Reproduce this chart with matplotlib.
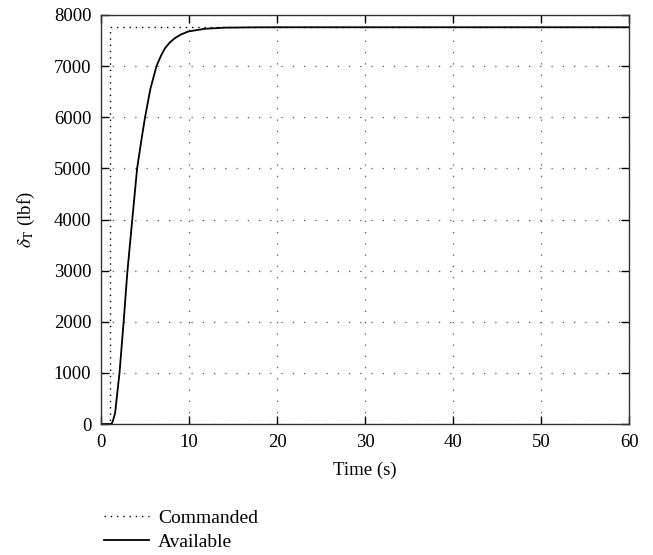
import matplotlib
matplotlib.use("Agg")
import matplotlib.pyplot as plt

plt.rcParams['font.family'] = ['Liberation Serif', 'DejaVu Serif']
plt.rcParams['mathtext.fontset'] = 'stix'

# Commanded (step)
cmd_t = [0, 1.0, 1.0, 60]
cmd_v = [0, 0, 7760, 7760]

# Available
av_t = [0, 1.0, 1.2, 1.35, 1.6, 2.1, 2.57, 2.98, 3.55, 4.1, 4.6, 5.0, 5.6, 6.3, 6.8, 7.27, 7.8, 8.4, 9.1, 9.9, 11.8, 14, 17, 20, 60]
av_v = [0, 0, 5, 60, 215, 1000, 2000, 2950, 4000, 5000, 5570, 6000, 6550, 7000, 7200, 7350, 7460, 7548, 7620, 7677, 7730, 7752, 7758, 7760, 7760]

xticks = [0, 10, 20, 30, 40, 50, 60]
yticks = [0, 1000, 2000, 3000, 4000, 5000, 6000, 7000, 8000]

fig = plt.figure(figsize=(6.53, 5.55), dpi=100)
ax = fig.add_axes([0.1547, 0.236, 0.8090, 0.737])

l1, = ax.plot(cmd_t, cmd_v, color='black', linestyle=(0, (1, 3.5)), linewidth=1.0, label='Commanded')
l2, = ax.plot(av_t, av_v, color='black', linewidth=1.3, label='Available')

ax.set_xlim(0, 60)
ax.set_ylim(0, 8000)
ax.set_xticks(xticks)
ax.set_yticks(yticks)
ax.tick_params(direction='in', length=6, width=1, top=True, right=True, labelsize=13.5,
               colors='black', pad=7)
for s in ax.spines.values():
    s.set_linewidth(1.0)
    s.set_color('#333333')
ax.grid(True, color='#555555', linestyle=(0, (1, 8)), linewidth=0.9)

ax.set_xlabel('Time (s)', fontsize=13.5, labelpad=8)
ax.set_ylabel(r'$\delta_\mathrm{T}$ (lbf)', fontsize=13.5, labelpad=12)

fig.legend(handles=[l1, l2], loc='upper left', bbox_to_anchor=(0.148, 0.096), frameon=False,
           fontsize=14, handlelength=2.3, handletextpad=0.45, labelspacing=0.3, borderaxespad=0)

fig.savefig('out.png', dpi=100)
